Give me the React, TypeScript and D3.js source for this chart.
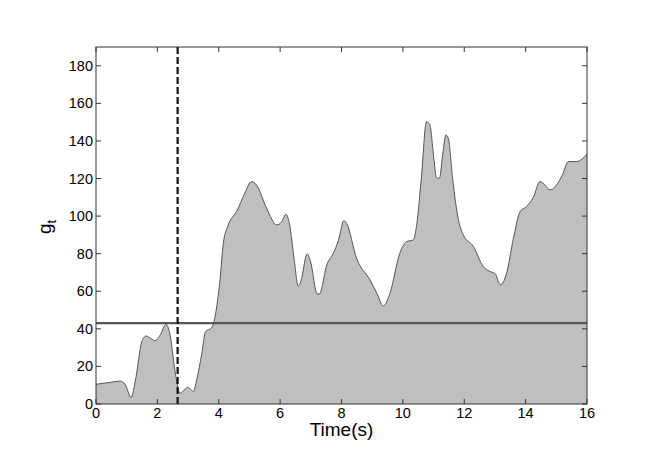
import React from "react";
import * as d3 from "d3";

const times = [0, 0.46, 0.78, 0.95, 1.14, 1.3, 1.49, 1.63, 1.78, 1.92, 2.1, 2.28, 2.4, 2.57, 2.68, 2.74, 2.85, 2.99, 3.1, 3.17, 3.28, 3.45, 3.57, 3.77, 3.88, 4.04, 4.15, 4.31, 4.58, 4.85, 5.07, 5.23, 5.56, 5.89, 6.05, 6.19, 6.3, 6.45, 6.59, 6.67, 6.88, 6.99, 7.21, 7.28, 7.52, 7.73, 7.9, 8.08, 8.17, 8.49, 8.93, 9.15, 9.36, 9.58, 9.9, 10.12, 10.34, 10.45, 10.6, 10.77, 10.88, 11.0, 11.1, 11.19, 11.3, 11.4, 11.48, 11.62, 11.81, 11.97, 12.3, 12.62, 12.84, 13.0, 13.18, 13.38, 13.6, 13.82, 14.03, 14.25, 14.47, 14.81, 15.01, 15.2, 15.39, 15.66, 15.85, 16.0];
const gValues = [10.5, 11.5, 12.2, 10.5, 3.5, 14, 33, 36.2, 35, 33.7, 37, 42.4, 38, 18, 8, 5.7, 7, 8.9, 7.5, 6.6, 12.8, 27, 38.5, 40.6, 46.5, 66, 85.6, 95.3, 102.4, 112.2, 118.4, 116.6, 104.2, 95.3, 97, 101, 96.2, 78, 62.8, 65, 79.9, 75.8, 58.6, 58.6, 74, 80.2, 87, 97.6, 96, 77.6, 66, 59, 52.2, 59, 80.2, 86.4, 87.3, 95.3, 120, 150.3, 148.6, 132, 120.2, 120.2, 133, 143.2, 141.5, 120, 98, 90, 83.8, 73.1, 70.5, 69.5, 63.4, 69.6, 88, 102.4, 105.1, 110, 118.4, 114, 116.6, 122, 129, 129, 130.5, 133];

const threshold = 43;
const changeTime = 2.66;
const xTicks = [0, 2, 4, 6, 8, 10, 12, 14, 16];
const yTicks = [0, 20, 40, 60, 80, 100, 120, 140, 160, 180];

export default function App() {
  const W = 661, H = 467;
  const left = 96, right = 587, top = 47, bottom = 404;
  const x = d3.scaleLinear().domain([0, 16]).range([left, right]);
  const y = d3.scaleLinear().domain([0, 190]).range([bottom, top]);
  const pts: [number, number][] = times.map((t, i) => [t, gValues[i]]);
  const area = d3.area<[number, number]>().x(d => x(d[0])).y0(y(0)).y1(d => y(d[1])).curve(d3.curveMonotoneX);
  const line = d3.line<[number, number]>().x(d => x(d[0])).y(d => y(d[1])).curve(d3.curveMonotoneX);
  const font = "'Liberation Sans', Arial, sans-serif";
  const tl = 5;
  return (
    <svg width={W} height={H} style={{ position: "absolute", left: 0, top: 0, background: "#fff" }}>
      <path d={area(pts) || ""} fill="#bfbfbf" />
      <path d={line(pts) || ""} fill="none" stroke="#555" strokeWidth={1} />
      <line x1={left} x2={right} y1={y(threshold)} y2={y(threshold)} stroke="#555" strokeWidth={2.2} />
      <line x1={x(changeTime)} x2={x(changeTime)} y1={top} y2={bottom} stroke="#111" strokeWidth={2.2} strokeDasharray="7,3" />
      <rect x={left} y={top} width={right - left} height={bottom - top} fill="none" stroke="#333" strokeWidth={1} />
      {xTicks.map(t => (
        <g key={"x" + t}>
          <line x1={x(t)} x2={x(t)} y1={bottom} y2={bottom - tl} stroke="#333" />
          <line x1={x(t)} x2={x(t)} y1={top} y2={top + tl} stroke="#333" />
          <text x={x(t)} y={bottom + 14} textAnchor="middle" fontFamily={font} fontSize={14.5} fill="#000">{t}</text>
        </g>
      ))}
      {yTicks.map(v => (
        <g key={"y" + v}>
          <line x1={left} x2={left + tl} y1={y(v)} y2={y(v)} stroke="#333" />
          <line x1={right} x2={right - tl} y1={y(v)} y2={y(v)} stroke="#333" />
          <text x={left - 3} y={y(v) + 5} textAnchor="end" fontFamily={font} fontSize={14.5} fill="#000">{v}</text>
        </g>
      ))}
      <text x={(left + right) / 2} y={436} textAnchor="middle" fontFamily={font} fontSize={19} fill="#000">Time(s)</text>
      <text transform="translate(51,234) rotate(-90)" fontFamily={font} fontSize={19} fill="#000">
        g<tspan fontSize={13} dy={5}>t</tspan>
      </text>
    </svg>
  );
}
